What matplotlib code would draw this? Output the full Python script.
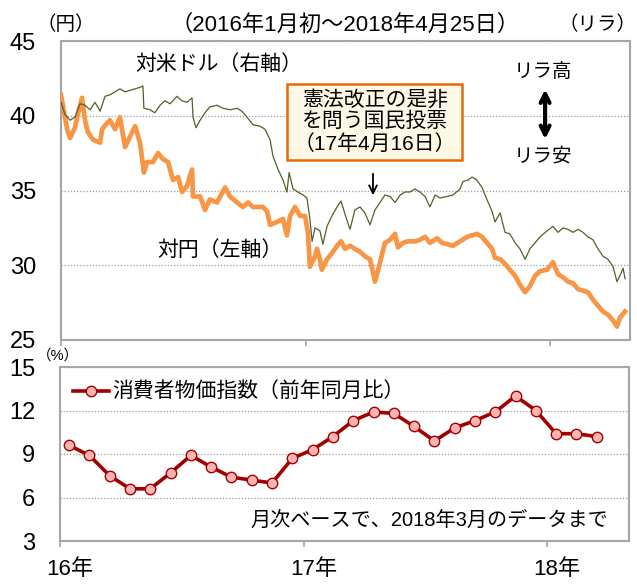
import numpy as np
import matplotlib
matplotlib.use("Agg")
import matplotlib.pyplot as plt
from matplotlib.transforms import ScaledTranslation

plt.rcParams['font.family'] = ['Liberation Sans', 'Noto Sans CJK JP']

# daily lira quotes (x in decimal years)
yen_x = [2016.000, 2016.025, 2016.037, 2016.057, 2016.070, 2016.086, 2016.098, 2016.110, 2016.131, 2016.160,
         2016.168, 2016.188, 2016.200, 2016.221, 2016.241, 2016.262, 2016.282, 2016.303, 2016.323, 2016.339,
         2016.352, 2016.376, 2016.397, 2016.417, 2016.438, 2016.458, 2016.479, 2016.495, 2016.515, 2016.536,
         2016.540, 2016.569, 2016.589, 2016.609, 2016.638, 2016.671, 2016.691, 2016.720, 2016.744, 2016.765,
         2016.785, 2016.826, 2016.843, 2016.855, 2016.883, 2016.908, 2016.924, 2016.937, 2016.957, 2016.978,
         2016.998, 2017.010, 2017.018, 2017.027, 2017.039, 2017.047, 2017.059, 2017.067, 2017.088, 2017.108,
         2017.129, 2017.145, 2017.162, 2017.182, 2017.202, 2017.223, 2017.243, 2017.264, 2017.284, 2017.305,
         2017.325, 2017.346, 2017.366, 2017.378, 2017.399, 2017.419, 2017.448, 2017.468, 2017.489, 2017.509,
         2017.538, 2017.558, 2017.583, 2017.603, 2017.632, 2017.661, 2017.681, 2017.701, 2017.722, 2017.742,
         2017.763, 2017.775, 2017.796, 2017.816, 2017.836, 2017.857, 2017.877, 2017.898, 2017.918, 2017.939,
         2017.959, 2017.988, 2018.012, 2018.033, 2018.053, 2018.074, 2018.094, 2018.115, 2018.135, 2018.155,
         2018.176, 2018.196, 2018.217, 2018.237, 2018.258, 2018.274, 2018.286, 2018.307]
yen_y = [41.4, 39.1, 38.5, 39.2, 40.2, 41.2, 39.7, 38.9, 38.4, 38.2,
         39.1, 39.5, 39.7, 39.1, 39.9, 37.9, 38.6, 39.3, 38.2, 36.2,
         36.9, 36.9, 37.5, 37.1, 36.9, 35.7, 35.9, 34.9, 35.3, 36.4,
         34.6, 34.6, 33.7, 34.4, 34.2, 35.2, 34.6, 34.2, 33.9, 34.2,
         33.9, 33.9, 33.6, 32.7, 32.9, 33.1, 32.0, 33.3, 33.9, 33.3,
         33.3, 32.2, 29.9, 30.2, 30.6, 31.1, 30.4, 29.7, 30.4, 30.8,
         31.3, 31.6, 31.1, 31.3, 31.1, 30.9, 30.6, 30.4, 28.9, 30.2,
         31.5, 31.7, 32.1, 31.2, 31.5, 31.6, 31.6, 31.7, 31.9, 31.5,
         31.8, 31.5, 31.4, 31.3, 31.6, 31.9, 32.0, 32.1, 31.9, 31.5,
         31.1, 30.5, 30.4, 30.1, 29.7, 29.3, 28.7, 28.2, 28.6, 29.3,
         29.6, 29.7, 30.2, 29.4, 29.2, 28.9, 28.8, 28.4, 28.3, 28.2,
         27.7, 27.3, 26.9, 26.7, 26.3, 25.9, 26.5, 26.9]

usd_x = [2016.000, 2016.016, 2016.037, 2016.057, 2016.078, 2016.098, 2016.119, 2016.139, 2016.160, 2016.180,
         2016.200, 2016.221, 2016.241, 2016.262, 2016.282, 2016.303, 2016.323, 2016.335, 2016.339, 2016.364,
         2016.384, 2016.405, 2016.425, 2016.446, 2016.474, 2016.495, 2016.515, 2016.536, 2016.540, 2016.552,
         2016.569, 2016.589, 2016.609, 2016.638, 2016.663, 2016.691, 2016.720, 2016.740, 2016.761, 2016.785,
         2016.814, 2016.834, 2016.855, 2016.867, 2016.888, 2016.908, 2016.924, 2016.933, 2016.949, 2016.969,
         2016.990, 2017.006, 2017.018, 2017.027, 2017.039, 2017.059, 2017.071, 2017.088, 2017.108, 2017.129,
         2017.145, 2017.162, 2017.182, 2017.202, 2017.223, 2017.243, 2017.264, 2017.284, 2017.305, 2017.325,
         2017.346, 2017.366, 2017.387, 2017.407, 2017.427, 2017.448, 2017.468, 2017.489, 2017.509, 2017.530,
         2017.550, 2017.579, 2017.603, 2017.632, 2017.644, 2017.665, 2017.681, 2017.701, 2017.722, 2017.742,
         2017.763, 2017.775, 2017.796, 2017.816, 2017.836, 2017.857, 2017.877, 2017.898, 2017.918, 2017.939,
         2017.959, 2017.988, 2018.012, 2018.033, 2018.053, 2018.074, 2018.094, 2018.115, 2018.135, 2018.155,
         2018.176, 2018.196, 2018.217, 2018.237, 2018.258, 2018.274, 2018.286, 2018.299, 2018.307]
usd_y = [40.9, 40.1, 39.7, 39.9, 40.8, 40.7, 40.4, 40.9, 40.3, 41.3,
         41.4, 41.6, 41.8, 41.6, 41.7, 41.8, 41.9, 42.0, 40.5, 40.4,
         40.2, 40.7, 41.0, 40.8, 41.3, 41.0, 40.9, 41.2, 39.9, 39.2,
         39.7, 40.2, 40.6, 40.7, 40.5, 40.4, 40.5, 40.3, 39.9, 39.4,
         39.3, 39.1, 38.4, 37.3, 36.4, 35.7, 34.9, 36.2, 35.1, 34.9,
         34.7, 34.5, 33.1, 31.6, 32.5, 32.3, 31.4, 32.6, 33.3, 33.9,
         34.3, 33.4, 32.4, 33.7, 33.9, 33.5, 32.7, 33.7, 34.2, 34.7,
         34.6, 34.2, 34.7, 34.9, 34.9, 35.1, 34.9, 34.6, 33.9, 34.7,
         34.5, 34.6, 34.7, 35.1, 35.6, 35.7, 35.9, 35.7, 35.2, 34.4,
         33.6, 32.9, 33.5, 32.2, 32.1, 31.5, 31.1, 30.4, 31.1, 31.5,
         31.9, 32.3, 32.6, 32.2, 32.5, 32.4, 32.2, 32.4, 32.2, 31.9,
         31.7, 31.1, 30.6, 30.4, 29.9, 28.9, 29.3, 29.8, 29.1]

# Turkish CPI, y/y %, Jan 2016 - Mar 2018
cpi_months = np.arange(27)
cpi = [9.6, 8.9, 7.5, 6.6, 6.6, 7.7, 8.9, 8.1, 7.4, 7.2, 7.0, 8.7,
       9.3, 10.2, 11.3, 11.9, 11.8, 10.9, 9.9, 10.8, 11.3, 11.9, 13.0, 12.0,
       10.4, 10.4, 10.2]

year_ticks = [2016, 2017, 2018]
year_labels = ["16年", "17年", "18年"]

W, H = 637, 585
fig = plt.figure(figsize=(W / 100, H / 100), dpi=100)

grid_kw = dict(color="#9a9a9a", linestyle=(0, (1, 1.5)), linewidth=0.9)
spine_c = "#a6a6a6"
tick_fs = 17


def style(ax):
    for s in ax.spines.values():
        s.set_color(spine_c)
        s.set_linewidth(1.5)
    ax.tick_params(axis="y", length=0, pad=18, labelsize=tick_fs)
    ax.tick_params(axis="x", direction="out", length=4.5, width=1.2, color=spine_c)
    ax.grid(axis="y", **grid_kw)
    ax.set_axisbelow(True)


# top panel: lira vs yen and dollar
ax1 = fig.add_axes([61 / W, 1 - 340 / H, 569 / W, 299 / H])
style(ax1)
ax1.plot(yen_x, yen_y, color="#f79646", linewidth=3.4, zorder=3)
ax1.set_ylim(25, 45)
ax1.set_yticks([25, 30, 35, 40, 45])
ax1.set_xlim(2016, 2016 + 569 / 244.5)
ax1.set_xticks(year_ticks)
ax1.set_xticklabels([])

ax1r = ax1.twinx()
ax1r.plot(usd_x, usd_y, color="#4f6228", linewidth=0.9, zorder=2)
ax1r.set_ylim(25, 45)
ax1r.set_yticks([])
ax1r.axis("off")

ax1.text(2016.646, 43.45, "対米ドル（右軸）", fontsize=15, ha="center", va="center")
ax1.text(2016.650, 31.0, "対円（左軸）", fontsize=15, ha="center", va="center")
ax1.text(2017.284, 39.6, "憲法改正の是非\nを問う国民投票\n（17年4月16日）", fontsize=15,
         ha="center", va="center", linespacing=1.15, zorder=5,
         bbox=dict(boxstyle="square,pad=0.3", facecolor="#fff8e6", edgecolor="#e26b0a", linewidth=1.8))
ax1.annotate("", xy=(2017.276, 34.5), xytext=(2017.276, 36.3),
             arrowprops=dict(arrowstyle="->", color="black", lw=1.3, mutation_scale=14))
ax1.text(2017.971, 42.93, "リラ高", fontsize=14, ha="center", va="center")
ax1.text(2017.971, 37.27, "リラ安", fontsize=14, ha="center", va="center")
ax1.annotate("", xy=(2017.98, 41.95), xytext=(2017.98, 38.25),
             arrowprops=dict(arrowstyle="<->", color="black", lw=3, mutation_scale=16))

# bottom panel: CPI
ax2 = fig.add_axes([60 / W, 1 - 541 / H, 569 / W, 174 / H])
style(ax2)
cpi_x = 2016 + (cpi_months + 0.45) / 12
ax2.plot(cpi_x, cpi, color="#a00000", linewidth=2.6, marker="o", markersize=7.5,
         markerfacecolor="#ffb3b3", markeredgecolor="#a00000", markeredgewidth=1,
         label="消費者物価指数（前年同月比）", zorder=3)
ax2.set_ylim(3, 15)
ax2.set_yticks([3, 6, 9, 12, 15])
ax2.set_xlim(2016, 2016 + 569 / 243.5)
ax2.set_xticks(year_ticks)
ax2.set_xticklabels(year_labels, fontsize=16)
ax2.tick_params(axis="x", pad=8.5)
offset = ScaledTranslation(0.1, 0, fig.dpi_scale_trans)
for lab in ax2.get_xticklabels():
    lab.set_transform(lab.get_transform() + offset)
ax2.legend(loc="center left", bbox_to_anchor=(13 / 569, 0.856), frameon=False, fontsize=15,
           handlelength=1.75, handletextpad=0.15, borderpad=0, borderaxespad=0)
ax2.text(2018.25, 4.45, "月次ベースで、2018年3月のデータまで", fontsize=14.5, ha="right", va="center")

# header texts
fig.text(345 / W, 1 - 25 / H, "（2016年1月初～2018年4月25日）", fontsize=16, ha="center", va="center")
fig.text(66 / W, 1 - 25 / H, "（円）", fontsize=14, ha="center", va="center")
fig.text(636 / W, 1 - 25 / H, "（リラ）", fontsize=14, ha="right", va="center")
fig.text(58 / W, 1 - 356 / H, "（%）", fontsize=10.5, ha="center", va="center")

fig.savefig("out.png", dpi=100)
